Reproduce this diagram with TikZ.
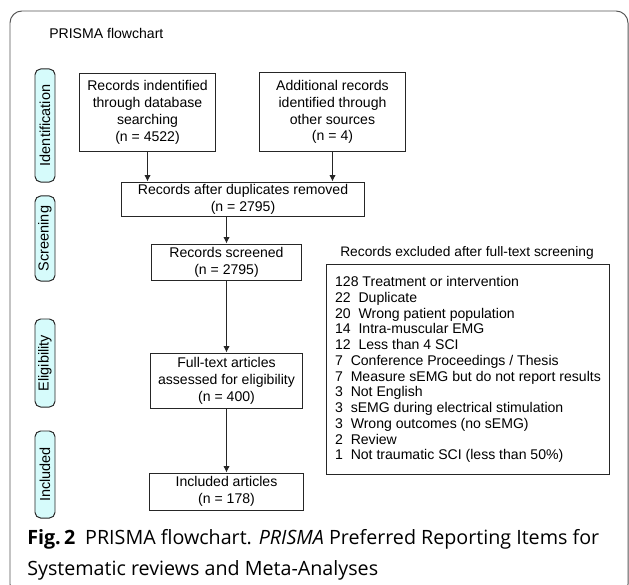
\documentclass[tikz,border=0pt]{standalone}
\usepackage{fontspec}
\setmainfont{Liberation Sans}
\newfontfamily\capfont{Open Sans}
\usetikzlibrary{arrows.meta}
\definecolor{pillcyan}{HTML}{D6FBFB}
\definecolor{framegray}{HTML}{555555}
\begin{document}
\begin{tikzpicture}[x=0.025cm, y=-0.025cm,
    box/.style={draw=black!85, line width=0.7pt, align=center, inner sep=0pt,
        font=\fontsize{10}{12}\selectfont},
    phase/.style={draw=black!85, line width=0.7pt, fill=pillcyan, rounded corners=4pt,
        rotate=90, minimum height=0.5cm, inner sep=0pt, font=\fontsize{10.3}{12}\selectfont},
    arr/.style={-{Latex[length=4.5pt,width=4.5pt]}, line width=0.7pt, black!85}]
    \clip (0,0) rectangle (629,584);
    \draw[framegray, line width=0.7pt, rounded corners=8.5pt] (10,11) rectangle (628,596);
    \node[anchor=west, inner sep=0pt, font=\fontsize{10}{12}\selectfont] (title) at (49,33) {PRISMA flowchart};
    % phases
    \node[phase, minimum width=2.825cm] (ident) at (45,125.5) {Identification};
    \node[phase, minimum width=2.125cm] (screen) at (45,238.5) {Screening};
    \node[phase, minimum width=2.2cm] (elig) at (45,363) {Eligibility};
    \node[phase, minimum width=2.175cm] (incl) at (45,474.5) {Included};
    % boxes
    \node[box, minimum width=3.375cm, minimum height=1.925cm] (db) at (147.5,112.5)
        {Records indentified\\through database\\searching\\(n = 4522)};
    \node[box, minimum width=3.625cm, minimum height=1.95cm] (other) at (332.5,112)
        {Additional records\\identified through\\other sources\\(n = 4)};
    \node[box, minimum width=6.05cm, minimum height=0.85cm] (dup) at (243,199)
        {Records after duplicates removed\\(n = 2795)};
    \node[box, minimum width=3.725cm, minimum height=0.9cm] (scr) at (226.5,262)
        {Records screened\\(n = 2795)};
    \node[box, minimum width=3.8cm, minimum height=1.375cm] (full) at (226.5,380.5)
        {Full-text articles\\assessed for eligibility\\(n = 400)};
    \node[box, minimum width=3.825cm, minimum height=0.925cm] (inc) at (226.5,491.5)
        {Included articles\\(n = 178)};
    % exclusions
    \node[anchor=west, inner sep=0pt, font=\fontsize{9.8}{12}\selectfont] (exhead) at (340,253)
        {Records excluded after full-text screening};
    \node[box, align=left, minimum width=7.05cm, minimum height=5.225cm,
        font=\fontsize{10}{11.2}\selectfont] (excl) at (468,369.5)
        {128 Treatment or intervention\\
         22~ Duplicate\\
         20~ Wrong patient population\\
         14~ Intra-muscular EMG\\
         12~ Less than 4 SCI\\
         7~ Conference Proceedings / Thesis\\
         7~ Measure sEMG but do not report results\\
         3~ Not English\\
         3~ sEMG during electrical stimulation\\
         3~ Wrong outcomes (no sEMG)\\
         2~ Review\\
         1~ Not traumatic SCI (less than 50\%)};
    % arrows
    \draw[arr] (db) -- (db |- dup.north);
    \draw[arr] (other) -- (other |- dup.north);
    \draw[arr] (scr |- dup.south) -- (scr);
    \draw[arr] (scr) -- (full);
    \draw[arr] (full) -- (inc);
    % caption
    \node[anchor=north west, align=left, inner sep=0pt,
        font=\capfont\fontsize{14}{22}\selectfont] (cap) at (27,529)
        {\textbf{Fig.\,2}\enspace PRISMA flowchart. \textit{PRISMA} Preferred Reporting Items for\\
         Systematic reviews and Meta-Analyses};
\end{tikzpicture}
\end{document}
